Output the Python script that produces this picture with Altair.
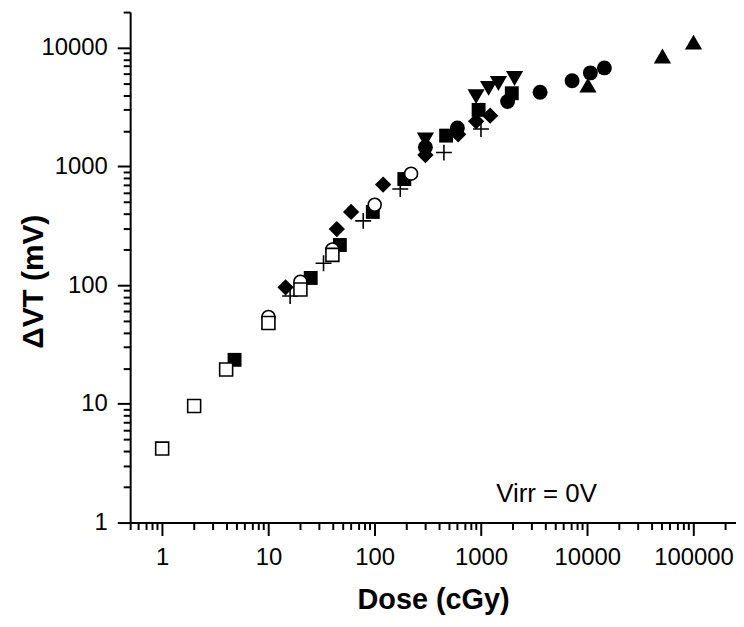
import altair as alt
import pandas as pd

# ---- data (Dose in cGy, delta VT in mV) ----
open_square_dose = [1, 2, 4, 10, 20, 40]
open_square_dv = [4.2, 9.6, 19.5, 48, 92, 180]

open_circle_dose = [10, 20, 40, 100, 220]
open_circle_dv = [54, 107, 200, 476, 870]

filled_square_dose = [4.8, 25, 47, 96, 190, 470, 950, 1950]
filled_square_dv = [23.5, 115, 218, 414, 784, 1820, 3000, 4140]

filled_diamond_dose = [14.5, 44, 60, 120, 300, 610, 900, 1220]
filled_diamond_dv = [96, 297, 414, 704, 1250, 1870, 2400, 2680]

plus_dose = [16, 33, 78, 174, 448, 1000]
plus_dv = [81, 153, 348, 647, 1310, 2070]

filled_circle_dose = [300, 600, 1780, 3600, 7200, 10700, 14500]
filled_circle_dv = [1450, 2110, 3530, 4220, 5280, 6150, 6770]

down_triangle_dose = [300, 900, 1180, 1460, 2070]
down_triangle_dv = [1670, 3880, 4550, 5010, 5520]

up_triangle_dose = [10150, 51000, 100000]
up_triangle_dv = [4850, 8530, 11160]

note_text = ["Virr = 0V"]
note_dose = [4140]
note_dv = [1.5]

x_domain = [0.5, 251000]
y_domain = [1, 20000]
x_ticks = [0.5, 0.6, 0.7, 0.8, 0.9] + [m * 10 ** k for k in range(0, 6) for m in range(1, 10)] + [200000]
y_ticks = [m * 10 ** k for k in range(0, 4) for m in range(1, 10)] + [10000, 20000]

FONT = "Liberation Sans, Arial, Helvetica, sans-serif"
MAJ = "abs(log(datum.value)/LN10 - round(log(datum.value)/LN10)) < 0.001"
tick_size = {"condition": {"test": MAJ, "value": 13}, "value": 7}
label_expr = f"({MAJ}) ? format(datum.value, 'd') : ''"

common_axis = dict(
    grid=False,
    domainColor="black",
    domainWidth=2,
    tickColor="black",
    tickWidth=2,
    tickSize=tick_size,
    labelExpr=label_expr,
    labelFont=FONT,
    labelFontSize=24,
    labelColor="black",
    labelOverlap=False,
    labelFlush=False,
    titleFont=FONT,
    titleFontWeight="bold",
    titleColor="black",
    titleBaseline="alphabetic",
)

x_axis = alt.Axis(values=x_ticks, labelPadding=10, titleY=87, titleFontSize=29, **common_axis)
y_axis = alt.Axis(values=y_ticks, labelPadding=10, titleX=-88, titleY=271, titleFontSize=30, **common_axis)

x_enc = alt.X("dose:Q", scale=alt.Scale(type="log", domain=x_domain), axis=x_axis, title="Dose (cGy)")
y_enc = alt.Y("dv:Q", scale=alt.Scale(type="log", domain=y_domain), axis=y_axis, title="ΔVT (mV)")


def layer(dose, dv, **mark):
    df = pd.DataFrame({"dose": dose, "dv": dv})
    return alt.Chart(df).mark_point(opacity=1, **mark).encode(x=x_enc, y=y_enc)


layers = [
    layer(filled_circle_dose, filled_circle_dv, shape="circle", filled=True, fill="black", size=225, strokeWidth=0),
    layer(filled_diamond_dose, filled_diamond_dv, shape="diamond", filled=True, fill="black", size=270, strokeWidth=0),
    layer(filled_square_dose, filled_square_dv, shape="square", filled=True, fill="black", size=196, strokeWidth=0),
    layer(down_triangle_dose, down_triangle_dv, shape="triangle-down", filled=True, fill="black", size=300, strokeWidth=0),
    layer(up_triangle_dose, up_triangle_dv, shape="triangle-up", filled=True, fill="black", size=300, strokeWidth=0),
    layer(plus_dose, plus_dv, shape="M-1,0L1,0M0,-1L0,1", filled=False, stroke="black", size=256, strokeWidth=1.6),
    layer(open_circle_dose, open_circle_dv, shape="circle", filled=True, fill="white", stroke="black", size=170, strokeWidth=1.6),
    layer(open_square_dose, open_square_dv, shape="square", filled=True, fill="white", stroke="black", size=170, strokeWidth=1.6),
]

note = alt.Chart(pd.DataFrame({"dose": note_dose, "dv": note_dv, "t": note_text})).mark_text(
    font=FONT, fontSize=26, color="black", align="center", baseline="alphabetic"
).encode(x=x_enc, y=y_enc, text="t:N")

chart = alt.layer(*layers, note).properties(
    width=610,
    height=514,
    padding={"left": 123, "top": 2, "right": 0, "bottom": 95},
    autosize=alt.AutoSizeParams(type="none"),
    background="white",
).configure_view(strokeWidth=0)

chart.save("out.html", embed_options={"renderer": "svg", "actions": False})
